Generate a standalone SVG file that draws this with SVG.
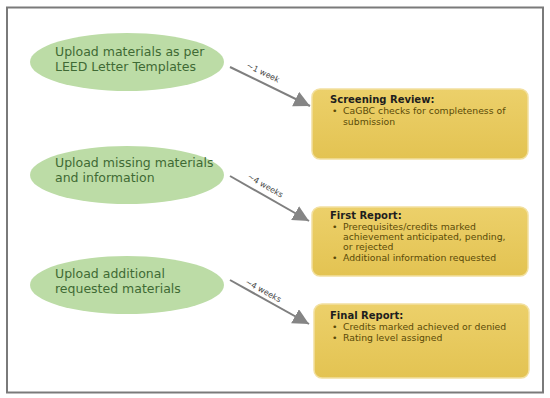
<svg xmlns="http://www.w3.org/2000/svg" width="550" height="398" viewBox="0 0 550 398">
<defs>
<linearGradient id="gold" x1="0" y1="0" x2="0" y2="1">
<stop offset="0" stop-color="#ecd06a"/>
<stop offset="1" stop-color="#e3c352"/>
</linearGradient>
<marker id="ah" markerUnits="userSpaceOnUse" markerWidth="18" markerHeight="18" refX="16" refY="8" orient="auto">
<path d="M0,0 L16,8 L0,16 z" fill="#858585"/>
</marker>
<style>
.ell{fill:#bcdca6;}
.et{font-family:"DejaVu Sans",Verdana,sans-serif;font-size:12.5px;fill:#3f6a34;}
.box{fill:url(#gold);stroke:#f2e0a0;stroke-width:1.5;}
.bt{font-family:"DejaVu Sans",Verdana,sans-serif;font-size:10px;font-weight:bold;fill:#1e1e1e;}
.bl{font-family:"DejaVu Sans",Verdana,sans-serif;font-size:9.3px;fill:#5a4a08;}
.conn{stroke:#7f7f7f;stroke-width:2;fill:none;marker-end:url(#ah);}
.lab{font-family:"DejaVu Sans",Verdana,sans-serif;font-size:8px;fill:#444;text-anchor:middle;}
</style>
</defs>
<rect x="0" y="0" width="550" height="398" fill="#ffffff"/>
<rect x="7" y="7.5" width="536" height="385" fill="#ffffff" stroke="#7a7a7a" stroke-width="2"/>

<g id="n1">
<ellipse class="ell" cx="127" cy="62" rx="97" ry="29"/>
<text class="et" x="55" y="56">Upload materials as per</text>
<text class="et" x="55" y="71">LEED Letter Templates</text>
</g>
<g id="n2">
<ellipse class="ell" cx="127" cy="175" rx="97" ry="29"/>
<text class="et" x="55" y="167">Upload missing materials</text>
<text class="et" x="55" y="182">and information</text>
</g>
<g id="n3">
<ellipse class="ell" cx="127" cy="285" rx="97" ry="29"/>
<text class="et" x="55" y="278">Upload additional</text>
<text class="et" x="55" y="293">requested materials</text>
</g>

<g id="b1">
<rect class="box" x="312" y="89" width="216" height="70" rx="8"/>
<text class="bt" x="330" y="103">Screening Review:</text>
<text class="bl" x="332" y="114">•</text>
<text class="bl" x="343" y="114">CaGBC checks for completeness of</text>
<text class="bl" x="343" y="125">submission</text>
</g>
<g id="b2">
<rect class="box" x="312" y="207" width="216" height="69" rx="8"/>
<text class="bt" x="330" y="219">First Report:</text>
<text class="bl" x="332" y="230">•</text>
<text class="bl" x="343" y="230">Prerequisites/credits marked</text>
<text class="bl" x="343" y="240">achievement anticipated, pending,</text>
<text class="bl" x="343" y="250">or rejected</text>
<text class="bl" x="332" y="261">•</text>
<text class="bl" x="343" y="261">Additional information requested</text>
</g>
<g id="b3">
<rect class="box" x="314" y="304" width="215" height="74" rx="8"/>
<text class="bt" x="330" y="319">Final Report:</text>
<text class="bl" x="332" y="330">•</text>
<text class="bl" x="343" y="330">Credits marked achieved or denied</text>
<text class="bl" x="332" y="341">•</text>
<text class="bl" x="343" y="341">Rating level assigned</text>
</g>

<g id="connectors">
<line class="conn" x1="230" y1="67" x2="310" y2="106"/>
<line class="conn" x1="230" y1="176" x2="309" y2="221"/>
<line class="conn" x1="230" y1="280" x2="309" y2="324"/>
<text class="lab" transform="translate(262,75) rotate(26)">~1 week</text>
<text class="lab" transform="translate(264,188) rotate(30)">~4 weeks</text>
<text class="lab" transform="translate(262,293) rotate(29)">~4 weeks</text>
</g>
</svg>
